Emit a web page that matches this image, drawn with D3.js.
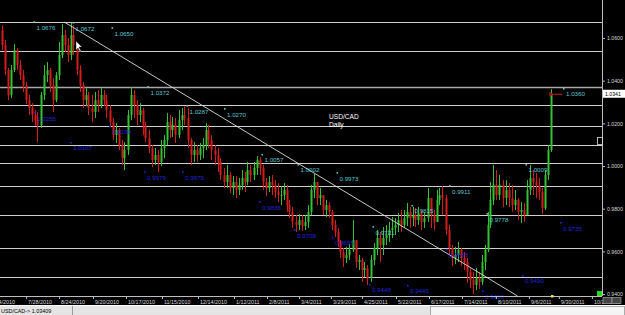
<!DOCTYPE html>
<html>
<head>
<meta charset="utf-8">
<script src="https://cdn.jsdelivr.net/npm/d3@7"></script>
<style>
  body { margin: 0; background: #000; overflow: hidden; }
  svg { display: block; }
  text { font-family: "Liberation Sans", Arial, sans-serif; }
</style>
</head>
<body>
<div id="chart"></div>
<script>
'use strict';

// USD/CAD daily candles (one candle per ~2 sessions)
const firstOpen = 1.0637
const closes = [
  1.0567, 1.0450, 1.0333, 1.0450, 1.0543, 1.0473, 1.0426, 1.0379, 1.0309, 1.0272,
  1.0239, 1.0215, 1.0192, 1.0333, 1.0426, 1.0450, 1.0379, 1.0309, 1.0426, 1.0520,
  1.0614, 1.0567, 1.0520, 1.0614, 1.0567, 1.0450, 1.0379, 1.0309, 1.0333, 1.0272,
  1.0253, 1.0309, 1.0286, 1.0333, 1.0309, 1.0262, 1.0206, 1.0145, 1.0169, 1.0098,
  1.0037, 1.0075, 1.0239, 1.0333, 1.0286, 1.0239, 1.0262, 1.0192, 1.0131, 1.0084,
  1.0028, 1.0052, 1.0019, 1.0084, 1.0122, 1.0206, 1.0169, 1.0192, 1.0145, 1.0215,
  1.0239, 1.0225, 1.0122, 1.0052, 1.0075, 1.0052, 1.0084, 1.0098, 1.0169, 1.0122,
  1.0075, 1.0052, 1.0019, 0.9958, 0.9925, 0.9958, 0.9897, 0.9925, 0.9888, 0.9911,
  0.9944, 0.9925, 0.9981, 0.9958, 0.9991, 1.0028, 0.9991, 0.9925, 0.9897, 0.9925,
  0.9911, 0.9878, 0.9864, 0.9864, 0.9888, 0.9817, 0.9785, 0.9738, 0.9724, 0.9747,
  0.9719, 0.9738, 0.9785, 0.9888, 0.9925, 0.9850, 0.9864, 0.9794, 0.9817, 0.9785,
  0.9724, 0.9691, 0.9644, 0.9597, 0.9569, 0.9583, 0.9607, 0.9653, 0.9550, 0.9560,
  0.9513, 0.9522, 0.9475, 0.9560, 0.9616, 0.9663, 0.9630, 0.9663, 0.9677, 0.9700,
  0.9710, 0.9724, 0.9747, 0.9724, 0.9756, 0.9785, 0.9756, 0.9770, 0.9747, 0.9780,
  0.9738, 0.9756, 0.9850, 0.9770, 0.9738, 0.9841, 0.9864, 0.9850, 0.9700, 0.9616,
  0.9569, 0.9583, 0.9607, 0.9569, 0.9550, 0.9504, 0.9466, 0.9443, 0.9475, 0.9457,
  0.9550, 0.9607, 0.9724, 0.9841, 0.9911, 0.9864, 0.9911, 0.9850, 0.9888, 0.9850,
  0.9817, 0.9841, 0.9785, 0.9794, 0.9770, 0.9888, 0.9944, 0.9925, 0.9911, 0.9878,
  0.9803, 0.9958, 1.0075, 1.0341
]
const highs = [
  1.0660, 1.0590, 1.0459, 1.0473, 1.0571, 1.0553, 1.0496, 1.0450, 1.0393, 1.0333,
  1.0295, 1.0262, 1.0253, 1.0347, 1.0473, 1.0487, 1.0459, 1.0412, 1.0440, 1.0581,
  1.0665, 1.0637, 1.0600, 1.0670, 1.0660, 1.0567, 1.0473, 1.0393, 1.0365, 1.0347,
  1.0333, 1.0347, 1.0356, 1.0365, 1.0356, 1.0333, 1.0286, 1.0225, 1.0201, 1.0178,
  1.0122, 1.0112, 1.0262, 1.0370, 1.0356, 1.0309, 1.0295, 1.0272, 1.0206, 1.0169,
  1.0098, 1.0084, 1.0075, 1.0122, 1.0145, 1.0248, 1.0239, 1.0230, 1.0225, 1.0262,
  1.0272, 1.0281, 1.0272, 1.0131, 1.0112, 1.0098, 1.0108, 1.0131, 1.0201, 1.0192,
  1.0145, 1.0098, 1.0084, 1.0037, 0.9991, 1.0005, 0.9972, 0.9953, 0.9953, 0.9944,
  0.9981, 0.9972, 1.0019, 1.0005, 1.0019, 1.0047, 1.0042, 1.0005, 0.9944, 0.9953,
  0.9958, 0.9934, 0.9920, 0.9906, 0.9920, 0.9911, 0.9841, 0.9808, 0.9770, 0.9775,
  0.9770, 0.9770, 0.9817, 0.9911, 0.9963, 0.9911, 0.9897, 0.9850, 0.9841, 0.9831,
  0.9794, 0.9747, 0.9710, 0.9653, 0.9616, 0.9621, 0.9635, 0.9747, 0.9653, 0.9583,
  0.9569, 0.9550, 0.9536, 0.9583, 0.9639, 0.9700, 0.9691, 0.9714, 0.9724, 0.9738,
  0.9761, 0.9756, 0.9780, 0.9794, 0.9794, 0.9827, 0.9808, 0.9808, 0.9803, 0.9808,
  0.9794, 0.9785, 0.9897, 0.9850, 0.9794, 0.9888, 0.9897, 0.9906, 0.9864, 0.9724,
  0.9630, 0.9621, 0.9644, 0.9616, 0.9597, 0.9569, 0.9522, 0.9504, 0.9522, 0.9504,
  0.9583, 0.9630, 0.9785, 0.9925, 1.0005, 0.9981, 0.9958, 0.9934, 0.9934, 0.9920,
  0.9911, 0.9888, 0.9850, 0.9831, 0.9827, 0.9934, 1.0005, 0.9981, 0.9967, 0.9944,
  0.9897, 0.9981, 1.0098, 1.0360
]
const lows = [
  1.0543, 1.0426, 1.0309, 1.0319, 1.0440, 1.0450, 1.0403, 1.0347, 1.0290, 1.0239,
  1.0206, 1.0187, 1.0112, 1.0178, 1.0309, 1.0393, 1.0347, 1.0253, 1.0300, 1.0403,
  1.0506, 1.0534, 1.0487, 1.0496, 1.0520, 1.0426, 1.0347, 1.0272, 1.0281, 1.0239,
  1.0206, 1.0225, 1.0253, 1.0272, 1.0281, 1.0225, 1.0183, 1.0122, 1.0108, 1.0075,
  1.0005, 0.9981, 1.0052, 1.0215, 1.0225, 1.0192, 1.0206, 1.0145, 1.0112, 1.0061,
  0.9995, 1.0005, 0.9972, 1.0000, 1.0037, 1.0098, 1.0131, 1.0136, 1.0108, 1.0131,
  1.0169, 1.0192, 1.0084, 1.0005, 1.0019, 1.0019, 1.0028, 1.0037, 1.0075, 1.0084,
  1.0028, 1.0005, 0.9972, 0.9934, 0.9897, 0.9897, 0.9874, 0.9864, 0.9850, 0.9864,
  0.9888, 0.9878, 0.9911, 0.9925, 0.9934, 0.9958, 0.9958, 0.9888, 0.9860, 0.9878,
  0.9864, 0.9850, 0.9831, 0.9817, 0.9841, 0.9785, 0.9756, 0.9710, 0.9691, 0.9700,
  0.9696, 0.9700, 0.9710, 0.9770, 0.9850, 0.9817, 0.9817, 0.9770, 0.9761, 0.9756,
  0.9700, 0.9667, 0.9621, 0.9569, 0.9527, 0.9546, 0.9560, 0.9597, 0.9522, 0.9513,
  0.9457, 0.9480, 0.9443, 0.9457, 0.9536, 0.9583, 0.9550, 0.9583, 0.9630, 0.9644,
  0.9663, 0.9677, 0.9691, 0.9691, 0.9710, 0.9719, 0.9710, 0.9719, 0.9714, 0.9724,
  0.9700, 0.9710, 0.9738, 0.9710, 0.9700, 0.9738, 0.9817, 0.9770, 0.9677, 0.9583,
  0.9532, 0.9541, 0.9550, 0.9532, 0.9513, 0.9452, 0.9429, 0.9400, 0.9419, 0.9424,
  0.9443, 0.9513, 0.9597, 0.9710, 0.9817, 0.9841, 0.9841, 0.9808, 0.9817, 0.9808,
  0.9785, 0.9794, 0.9747, 0.9733, 0.9738, 0.9770, 0.9864, 0.9864, 0.9850, 0.9841,
  0.9775, 0.9794, 0.9934, 1.0066
]

// horizontal levels drawn on the chart
const levels = [1.0676, 1.0539, 1.0372, 1.0285, 1.0187, 1.0098, 1.0014, 0.9906, 0.9772, 0.9616, 0.9480]

// trend line (bar index, price)
const trendBars = [21, 172]
const trendPrices = [1.0674, 0.9391]

// swing high labels (cyan) and swing low labels (blue)
const hiLabels = ['1.0676', '1.0672', '1.0650', '1.0372', '1.0287', '1.0270', '1.0057', '1.0002',
  '0.9973', '0.9721', '0.9815', '0.9911', '0.9778', '1.0009', '1.0360']
const hiBars = [11, 24, 37, 49, 62, 74.5, 87, 99, 112, 124, 137, 149.5, 162, 175, 187.5]
const hiPrices = [1.0674, 1.0670, 1.0646, 1.0370, 1.0281, 1.0267, 1.0052, 1.0005,
  0.9967, 0.9714, 0.9813, 0.9906, 0.9775, 1.0005, 1.0361]

const loLabels = ['1.0255', '1.0107', '1.0180', '0.9979', '0.9975', '0.9836', '0.9708',
  '0.9665', '0.9448', '0.9445', '0.9608', '0.9406', '0.9490', '0.9735']
const loBars = [11.2, 23.2, 36.2, 47.8, 60.5, 86.2, 97.8, 110.5, 122.8, 135.5, 148.5, 160.5, 173.8, 186.5]
const loPrices = [1.0248, 1.0108, 1.0183, 0.9972, 0.9972, 0.9831, 0.9700, 0.9663,
  0.9443, 0.9438, 0.9607, 0.9412, 0.9485, 0.9733]

// axes
const priceTicks = [0.94, 0.96, 0.98, 1.00, 1.02, 1.04, 1.06]
const dateLabels = ['7/4/2010', '7/28/2010', '8/24/2010', '9/20/2010', '10/17/2010', '11/15/2010',
  '12/14/2010', '1/12/2011', '2/8/2011', '3/4/2011', '3/29/2011', '4/25/2011', '5/22/2011',
  '6/17/2011', '7/14/2011', '8/10/2011', '9/6/2011', '9/30/2011', '10/27/2011']
const dateBars = [-3.2, 8.2, 19.2, 30.5, 41.5, 53.5, 65.5, 77.5, 88.5, 99.2, 109.8, 120.2,
  131.5, 142.5, 153.5, 164.8, 175.8, 185.8, 196.8]

const currentPrice = 1.0341
const arrowBars = [183.3, 186.9]
const symbol = 'USD/CAD'
const period = 'Daily'
const statusText = 'USD/CAD-> 1.03409'


var W = 625, H = 315
var plotRight = 602, plotBottom = 296

var x = d3.scaleLinear().domain([0, 200]).range([1.5, 601.5])
var y = d3.scaleLinear().domain([0.9391, 1.0778]).range([plotBottom, 0])

var svg = d3.select('#chart').append('svg')
    .attr('width', W)
    .attr('height', H)
    .style('background', '#000')

svg.append('clipPath').attr('id', 'plot')
  .append('rect').attr('x', 0).attr('y', 0).attr('width', plotRight).attr('height', plotBottom)

var plot = svg.append('g').attr('clip-path', 'url(#plot)')

const crisp = v => Math.round(v) + 0.5

// horizontal levels
plot.selectAll('line.level')
  .data(levels)
  .enter().append('line')
    .attr('class', 'level')
    .attr('x1', 0).attr('x2', plotRight)
    .attr('y1', d => crisp(y(d))).attr('y2', d => crisp(y(d)))
    .attr('stroke', (d, i) => i === 2 ? '#a8a8a8' : '#cfcfcf')
    .attr('stroke-width', (d, i) => i === 2 ? 1.6 : 1)

// candles
var bars = closes.map((c, i) => ({
  i: i,
  o: i ? closes[i - 1] : firstOpen,
  h: highs[i],
  l: lows[i],
  c: c
}))
const upColor = '#33c233', downColor = '#d41c1c'

var candle = plot.selectAll('g.candle')
  .data(bars)
  .enter().append('g')
    .attr('class', 'candle')

candle.append('line')
  .attr('x1', d => crisp(x(d.i))).attr('x2', d => crisp(x(d.i)))
  .attr('y1', d => y(d.h)).attr('y2', d => y(d.l))
  .attr('stroke', d => d.c >= d.o ? upColor : downColor)
  .attr('stroke-width', 1)

candle.append('rect')
  .attr('x', d => Math.round(x(d.i)) - 0.5)
  .attr('width', 2)
  .attr('y', d => y(Math.max(d.o, d.c)))
  .attr('height', d => Math.max(1, Math.abs(y(d.o) - y(d.c))))
  .attr('fill', d => d.c >= d.o ? upColor : downColor)

// trend line
plot.append('line')
  .attr('x1', x(trendBars[0])).attr('y1', y(trendPrices[0]))
  .attr('x2', x(trendBars[1])).attr('y2', y(trendPrices[1]))
  .attr('stroke', '#dcdcdc')
  .attr('stroke-width', 0.9)

// swing labels
function swingLabels(cls, labels, barsIdx, prices, color) {
  var g = svg.selectAll('g.' + cls)
    .data(labels)
    .enter().append('g')
      .attr('class', cls)
      .attr('transform', (d, i) => 'translate(' + x(barsIdx[i]) + ',' + y(prices[i]) + ')')
  g.append('rect')
    .attr('x', -1).attr('y', -1).attr('width', 1.6).attr('height', 1.6)
    .attr('fill', color)
  g.append('text')
    .attr('x', 2).attr('y', 7.5)
    .attr('font-size', 6.2)
    .attr('fill', color)
    .text(d => d)
}
swingLabels('hi', hiLabels, hiBars, hiPrices, '#5ec6d0')
swingLabels('lo', loLabels, loBars, loPrices, '#2424d8')

// title
svg.append('text')
  .attr('x', 329).attr('y', 118.5)
  .attr('font-size', 6.6).attr('fill', '#fff')
  .text(symbol)
svg.append('text')
  .attr('x', 329).attr('y', 126.5)
  .attr('font-size', 6.6).attr('fill', '#fff')
  .text(period)

// price arrow
svg.append('defs').append('marker')
    .attr('id', 'arrowhead')
    .attr('viewBox', '0 0 6 6').attr('refX', 1).attr('refY', 3)
    .attr('markerWidth', 4).attr('markerHeight', 4)
    .attr('orient', 'auto')
  .append('path').attr('d', 'M6,0 L0,3 L6,6 Z').attr('fill', '#b01818')
svg.append('line')
  .attr('x1', x(arrowBars[1])).attr('x2', x(arrowBars[0]) + 2)
  .attr('y1', y(currentPrice) + 1).attr('y2', y(currentPrice) + 1)
  .attr('stroke', '#b01818').attr('stroke-width', 1.2)
  .attr('marker-end', 'url(#arrowhead)')

// price axis (right)
var yAxis = svg.append('g')
  .attr('transform', 'translate(' + plotRight + ',0)')
  .call(d3.axisRight(y).tickValues(priceTicks).tickFormat(d3.format('.4f')).tickSize(3).tickPadding(2))
yAxis.select('.domain').attr('stroke', '#bdbdbd').attr('d', 'M0.5,0V' + plotBottom)
yAxis.selectAll('.tick line').attr('stroke', '#bdbdbd')
yAxis.selectAll('.tick text').attr('fill', '#d8d8d8').attr('font-size', 5.2)
  .attr('font-family', '"Liberation Sans", Arial, sans-serif')

// date axis (bottom)
var xAxis = svg.append('g')
  .attr('transform', 'translate(0,' + plotBottom + ')')
  .call(d3.axisBottom(x).tickValues(dateBars).tickFormat((d, i) => dateLabels[i]).tickSize(3).tickPadding(0))
xAxis.select('.domain').attr('stroke', '#bdbdbd').attr('d', 'M0,0.5H' + plotRight)
xAxis.selectAll('.tick line').attr('stroke', '#bdbdbd')
xAxis.selectAll('.tick text')
  .attr('fill', '#d8d8d8').attr('font-size', 5.4)
  .attr('font-family', '"Liberation Sans", Arial, sans-serif')
  .attr('text-anchor', 'start').attr('dx', 1.5).attr('dy', 0).attr('y', 7.5)

// current price tag
svg.append('rect')
  .attr('x', plotRight + 1).attr('y', y(currentPrice) - 3.5)
  .attr('width', 22).attr('height', 8)
  .attr('fill', '#fff')
svg.append('text')
  .attr('x', plotRight + 3).attr('y', y(currentPrice) + 2.5)
  .attr('font-size', 5.2).attr('fill', '#000')
  .text(d3.format('.4f')(currentPrice))

// small terminal markers
svg.append('rect').attr('x', 597.5).attr('y', 137.5).attr('width', 5).attr('height', 7)
  .attr('fill', 'none').attr('stroke', '#ddd').attr('stroke-width', 0.8)
svg.append('rect').attr('x', 597).attr('y', 291).attr('width', 5).attr('height', 5).attr('fill', '#22dd22')
svg.append('rect').attr('x', x(bars.length - 1) + 0.5).attr('y', 295).attr('width', 2.5).attr('height', 2.5).attr('fill', '#f0e060')
svg.append('rect').attr('x', 603).attr('y', 297.5).attr('width', 9).attr('height', 6)
  .attr('fill', '#444').attr('stroke', '#aaa').attr('stroke-width', 0.6)
svg.append('rect').attr('x', 612).attr('y', 297.5).attr('width', 9).attr('height', 6)
  .attr('fill', '#444').attr('stroke', '#aaa').attr('stroke-width', 0.6)

// mouse pointer
svg.append('path')
  .attr('d', 'M76,41 L76,50 L78,48 L80,52 L81,51 L79,47 L82,47 Z')
  .attr('fill', '#fff').attr('stroke', '#000').attr('stroke-width', 0.4)

// status bar
svg.append('rect').attr('x', 0).attr('y', 305).attr('width', W).attr('height', 10).attr('fill', '#e4e4e4')
svg.append('line').attr('x1', 0).attr('x2', W).attr('y1', 305.5).attr('y2', 305.5).attr('stroke', '#fff')
svg.append('line').attr('x1', 72.5).attr('x2', 72.5).attr('y1', 306).attr('y2', 315).attr('stroke', '#9a9a9a')
svg.append('rect').attr('x', 430.5).attr('y', 306.5).attr('width', 194).attr('height', 9)
  .attr('fill', '#f4f4f4').attr('stroke', '#9a9a9a').attr('stroke-width', 0.8)
svg.append('text')
  .attr('x', 1).attr('y', 313).attr('font-size', 5.4).attr('fill', '#000')
  .text(statusText)
</script>
</body>
</html>
